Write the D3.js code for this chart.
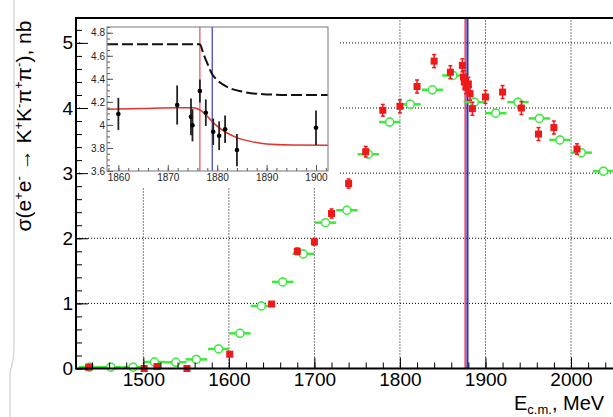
<!DOCTYPE html>
<html>
<head>
<meta charset="utf-8">
<script src="https://cdn.jsdelivr.net/npm/d3@7"></script>
<style>
  body { margin: 0; background: #fff; }
  text { font-family: 'Liberation Sans', Arial, sans-serif; }
</style>
</head>
<body>
<div id="chart"></div>
<script>
// main plot data, red squares (with errors) and green open circles (bins)
const redE = [1436, 1501, 1516, 1551, 1601, 1650, 1680, 1700, 1720, 1740, 1760, 1780, 1800, 1820, 1840, 1859, 1873, 1874.2, 1875.3, 1877.3, 1880, 1882, 1884.7, 1900, 1920, 1942, 1962, 1980, 2007]
const redV = [0.02, 0.0, 0.03, 0.0, 0.22, 0.99, 1.80, 1.945, 2.38, 2.84, 3.33, 3.965, 4.026, 4.33, 4.72, 4.55, 4.655, 4.475, 4.40, 4.32, 4.37, 4.22, 3.99, 4.17, 4.245, 4.00, 3.60, 3.70, 3.37]
const redErr = [0.02, 0.02, 0.02, 0.02, 0.03, 0.04, 0.05, 0.05, 0.07, 0.07, 0.08, 0.09, 0.1, 0.1, 0.1, 0.1, 0.1, 0.1, 0.1, 0.1, 0.1, 0.1, 0.1, 0.1, 0.1, 0.1, 0.1, 0.1, 0.08]

const greenE = [1437, 1462, 1488, 1513, 1538, 1562, 1588, 1613, 1638, 1663, 1687, 1713, 1738, 1763, 1788, 1812, 1838, 1862, 1887, 1912, 1938, 1963, 1987, 2012, 2038]
const greenV = [0.02, 0.02, 0.02, 0.10, 0.095, 0.14, 0.30, 0.54, 0.96, 1.33, 1.76, 2.24, 2.43, 3.29, 3.785, 4.056, 4.28, 4.50, 4.09, 3.92, 4.09, 3.84, 3.51, 3.315, 3.03]
const greenErr = [0.01, 0.01, 0.01, 0.02, 0.02, 0.02, 0.03, 0.03, 0.04, 0.05, 0.05, 0.06, 0.06, 0.07, 0.07, 0.07, 0.07, 0.07, 0.07, 0.07, 0.07, 0.07, 0.07, 0.07, 0.07]
const binHalf = 12.5

const markLines = [1876.5, 1879.0]
const xTicks = [1500, 1600, 1700, 1800, 1900, 2000]
const yTicks = [0, 1, 2, 3, 4, 5]

// inset data
const insetE = [1860, 1871.9, 1874.7, 1875.0, 1876.5, 1877.7, 1879.2, 1880.4, 1881.6, 1884.0, 1900]
const insetV = [4.095, 4.173, 4.07, 3.997, 4.294, 4.106, 3.941, 3.906, 3.962, 3.782, 3.976]
const insetErr = [0.14, 0.17, 0.16, 0.14, 0.1, 0.115, 0.115, 0.125, 0.12, 0.14, 0.15]

const fitE = [1857.7, 1865, 1872, 1875, 1876, 1877, 1878, 1879, 1880, 1882, 1884, 1887, 1890, 1895, 1902.4]
const fitV = [4.135, 4.142, 4.148, 4.148, 4.14, 4.115, 4.075, 4.03, 3.99, 3.93, 3.89, 3.855, 3.835, 3.826, 3.823]

const dashE = [1857.7, 1876.5, 1877.2, 1878, 1879, 1880, 1882, 1885, 1890, 1895, 1902.4]
const dashV = [4.70, 4.70, 4.62, 4.535, 4.44, 4.39, 4.33, 4.29, 4.265, 4.26, 4.26]

const insetXTicks = [1860, 1870, 1880, 1890, 1900]
const insetYTicks = [3.6, 3.8, 4.0, 4.2, 4.4, 4.6, 4.8]

const W = 613, H = 417
const green = '#3ee83e'
const red = '#ee1a1a'

const svg = d3.select('#chart').append('svg')
  .attr('width', W).attr('height', H)

const x = d3.scaleLinear().domain([1421.3, 2052.6]).range([76, 616])
const y = d3.scaleLinear().domain([0, 5.39]).range([368.5, 17.5])

// artifact line at far left of the scan
svg.append('path')
  .attr('d', 'M14,0 V348 Q14,360 10,372 V417')
  .attr('fill', 'none').attr('stroke', '#d0d0d0').attr('stroke-width', 1.2)

// grid
svg.append('g').selectAll('line').data(xTicks).enter().append('line')
  .attr('x1', d => x(d)).attr('x2', d => x(d))
  .attr('y1', y(5.39)).attr('y2', y(0))
  .attr('stroke', '#000').attr('stroke-width', 1).attr('stroke-dasharray', '1,2')
svg.append('g').selectAll('line').data(yTicks.slice(1)).enter().append('line')
  .attr('x1', 76).attr('x2', 616)
  .attr('y1', d => y(d)).attr('y2', d => y(d))
  .attr('stroke', '#000').attr('stroke-width', 1).attr('stroke-dasharray', '1,2')

// vertical lines
svg.append('line').attr('x1', x(markLines[0])).attr('x2', x(markLines[0]))
  .attr('y1', 18).attr('y2', 368).attr('stroke', '#e5506a').attr('stroke-width', 2)
svg.append('line').attr('x1', x(markLines[1])).attr('x2', x(markLines[1]))
  .attr('y1', 18).attr('y2', 368).attr('stroke', '#3030c8').attr('stroke-width', 2)

// green points
const gp = svg.append('g')
greenE.forEach(function(e, i) {
  const cx = x(e), cy = y(greenV[i])
  gp.append('line').attr('x1', x(e - binHalf)).attr('x2', x(e + binHalf))
    .attr('y1', cy).attr('y2', cy).attr('stroke', green).attr('stroke-width', 2.5)
  const ey = Math.max(Math.abs(y(greenV[i] + greenErr[i]) - cy), 4.5)
  gp.append('line').attr('x1', cx).attr('x2', cx)
    .attr('y1', cy - ey).attr('y2', cy + ey).attr('stroke', green).attr('stroke-width', 2)
  gp.append('circle').attr('cx', cx).attr('cy', cy).attr('r', 4)
    .attr('fill', '#fff').attr('stroke', green).attr('stroke-width', 1.5)
})

// red points
const rp = svg.append('g')
redE.forEach(function(e, i) {
  const cx = x(e), cy = y(redV[i])
  const ey = Math.abs(y(redV[i] + redErr[i]) - cy)
  if (ey > 3) {
    rp.append('line').attr('x1', cx).attr('x2', cx)
      .attr('y1', cy - ey).attr('y2', cy + ey).attr('stroke', red).attr('stroke-width', 1.5)
    rp.append('line').attr('x1', cx - 2).attr('x2', cx + 2)
      .attr('y1', cy - ey).attr('y2', cy - ey).attr('stroke', red).attr('stroke-width', 1.5)
    rp.append('line').attr('x1', cx - 2).attr('x2', cx + 2)
      .attr('y1', cy + ey).attr('y2', cy + ey).attr('stroke', red).attr('stroke-width', 1.5)
  }
  rp.append('rect').attr('x', cx - 3.5).attr('y', cy - 3.5)
    .attr('width', 7).attr('height', 7).attr('fill', red)
})

// inset pad hides grid behind
svg.append('rect').attr('x', 80).attr('y', 20).attr('width', 258).attr('height', 168).attr('fill', '#fff')

// main axes
const yMinor = d3.range(0, 5.39, 0.2)
const xMinor = d3.range(1440, 2052, 20)

svg.append('g').attr('transform', 'translate(76,0)')
  .call(d3.axisLeft(y).tickValues(yMinor).tickSize(-6).tickSizeOuter(0).tickFormat(''))
  .call(g => g.select('.domain').remove())
svg.append('g').attr('transform', 'translate(76,0)')
  .call(d3.axisLeft(y).tickValues(yTicks).tickSize(-12).tickSizeOuter(0).tickPadding(3).tickFormat(d3.format('d')))
  .call(g => g.select('.domain').remove())
  .call(g => g.selectAll('text').attr('font-size', 19).attr('fill', '#000').attr('x', -3))

svg.append('g').attr('transform', 'translate(0,368.5)')
  .call(d3.axisBottom(x).tickValues(xMinor).tickSize(-6).tickSizeOuter(0).tickFormat(''))
  .call(g => g.select('.domain').remove())
svg.append('g').attr('transform', 'translate(0,368.5)')
  .call(d3.axisBottom(x).tickValues(xTicks).tickSize(-11).tickSizeOuter(0).tickPadding(4).tickFormat(d3.format('d')))
  .call(g => g.select('.domain').remove())
  .call(g => g.selectAll('text').attr('font-size', 19).attr('fill', '#000'))

svg.append('path').attr('d', 'M616,18 H76 V368.5 H616')
  .attr('fill', 'none').attr('stroke', '#000').attr('stroke-width', 2)

// axis titles
const yt = svg.append('text').attr('transform', 'translate(31,126) rotate(-90)')
  .attr('text-anchor', 'middle').attr('font-size', 21)
const parts = [['σ(e', 0], ['+', 1], ['e', 0], ['-', 1], [' → K', 0], ['+', 1], ['K', 0], ['-', 1], ['π', 0], ['+', 1], ['π', 0], ['-', 1], ['), nb', 0]]
let prevSup = 0
parts.forEach(function(p) {
  const t = yt.append('tspan').text(p[0])
  if (p[1] && !prevSup) t.attr('dy', -8).attr('font-size', 13)
  else if (p[1]) t.attr('font-size', 13)
  else if (prevSup) t.attr('dy', 8)
  prevSup = p[1]
})

const xt = svg.append('text').attr('x', 514).attr('y', 410).attr('font-size', 20)
xt.append('tspan').text('E')
xt.append('tspan').text('c.m.').attr('font-size', 13).attr('dy', 4)
xt.append('tspan').text(', MeV').attr('dy', -4)

// inset
const ix = d3.scaleLinear().domain([1857.7, 1902.43]).range([107, 328])
const iy = d3.scaleLinear().domain([3.6, 4.85]).range([171, 27])
const inset = svg.append('g')

inset.append('line').attr('x1', ix(markLines[0])).attr('x2', ix(markLines[0]))
  .attr('y1', 27).attr('y2', 171).attr('stroke', '#e8504f').attr('stroke-width', 1.2)
inset.append('line').attr('x1', ix(markLines[1])).attr('x2', ix(markLines[1]))
  .attr('y1', 27).attr('y2', 171).attr('stroke', '#3a3ac0').attr('stroke-width', 1.2)

const line = d3.line().x(d => ix(d[0])).y(d => iy(d[1])).curve(d3.curveMonotoneX)
inset.append('path').attr('d', line(dashE.map((e, i) => [e, dashV[i]])))
  .attr('fill', 'none').attr('stroke', '#111').attr('stroke-width', 2).attr('stroke-dasharray', '11,4')
inset.append('path').attr('d', line(fitE.map((e, i) => [e, fitV[i]])))
  .attr('fill', 'none').attr('stroke', '#e0332f').attr('stroke-width', 1.5)

insetE.forEach(function(e, i) {
  inset.append('line').attr('x1', ix(e)).attr('x2', ix(e))
    .attr('y1', iy(insetV[i] + insetErr[i])).attr('y2', iy(insetV[i] - insetErr[i]))
    .attr('stroke', '#222').attr('stroke-width', 1.8)
  inset.append('circle').attr('cx', ix(e)).attr('cy', iy(insetV[i])).attr('r', 2.3).attr('fill', '#000')
})

inset.append('g').attr('transform', 'translate(107,0)')
  .call(d3.axisLeft(iy).tickValues(d3.range(3.6, 4.851, 0.05)).tickSize(-3).tickSizeOuter(0).tickFormat(''))
  .call(g => g.select('.domain').remove())
  .call(g => g.selectAll('line').attr('stroke', '#555'))
inset.append('g').attr('transform', 'translate(107,0)')
  .call(d3.axisLeft(iy).tickValues(insetYTicks).tickSize(-6).tickSizeOuter(0).tickPadding(2).tickFormat(d => String(+d.toFixed(1))))
  .call(g => g.select('.domain').remove())
  .call(g => g.selectAll('line').attr('stroke', '#555'))
  .call(g => g.selectAll('text').attr('font-size', 10).attr('fill', '#222'))
inset.append('g').attr('transform', 'translate(0,171)')
  .call(d3.axisBottom(ix).tickValues(d3.range(1858, 1903, 2)).tickSize(-3).tickSizeOuter(0).tickFormat(''))
  .call(g => g.select('.domain').remove())
  .call(g => g.selectAll('line').attr('stroke', '#555'))
inset.append('g').attr('transform', 'translate(0,171)')
  .call(d3.axisBottom(ix).tickValues(insetXTicks).tickSize(-6).tickSizeOuter(0).tickPadding(3).tickFormat(d3.format('d')))
  .call(g => g.select('.domain').remove())
  .call(g => g.selectAll('line').attr('stroke', '#555'))
  .call(g => g.selectAll('text').attr('font-size', 10).attr('fill', '#222'))

inset.append('rect').attr('x', 107).attr('y', 27).attr('width', 221).attr('height', 144)
  .attr('fill', 'none').attr('stroke', '#777').attr('stroke-width', 1)
</script>
</body>
</html>
